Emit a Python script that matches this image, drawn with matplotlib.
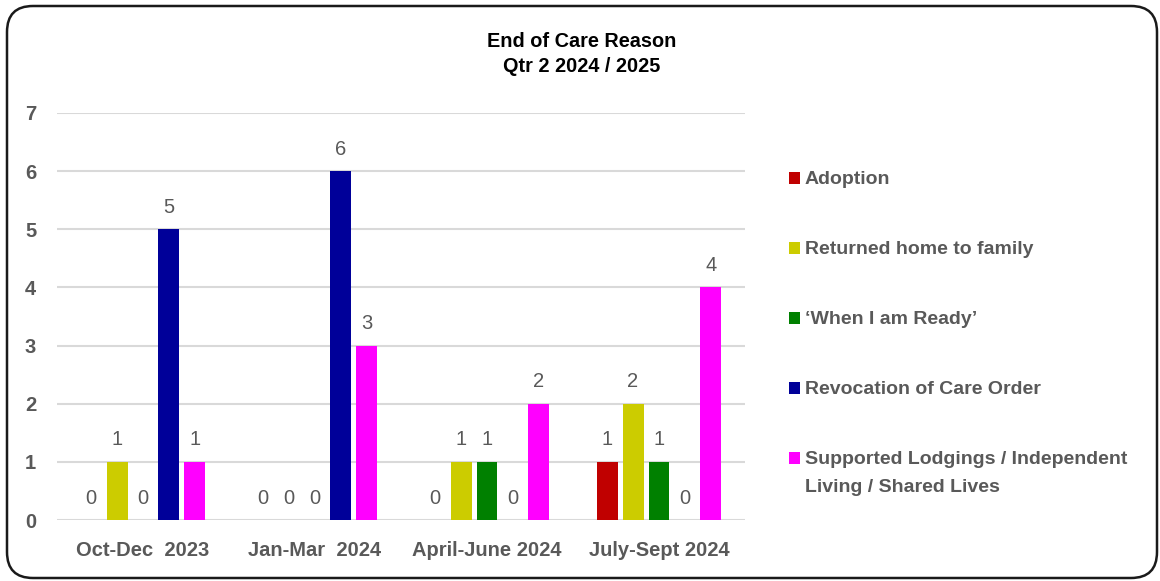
import matplotlib
matplotlib.use("Agg")
import matplotlib.pyplot as plt
import numpy as np
from matplotlib.patches import FancyBboxPatch, Rectangle
from matplotlib.transforms import IdentityTransform

plt.rcParams['font.family'] = ['Liberation Sans', 'DejaVu Sans']

quarters = ["Oct-Dec  2023", "Jan-Mar  2024", "April-June 2024", "July-Sept 2024"]
reasons = [
    ["Adoption"],
    ["Returned home to family"],
    ["\u2018When I am Ready\u2019"],
    ["Revocation of Care Order"],
    ["Supported Lodgings / Independent", "Living / Shared Lives"],
]
adoption = [0, 0, 0, 1]
returned_home = [1, 0, 1, 2]
when_i_am_ready = [0, 0, 1, 1]
revocation = [5, 6, 0, 0]
supported_lodgings = [1, 3, 2, 4]
series = [adoption, returned_home, when_i_am_ready, revocation, supported_lodgings]
colors = ["#C00000", "#CCCC00", "#008000", "#000099", "#FF00FF"]

grey = "#595959"
W, H = 1160, 581

fig = plt.figure(figsize=(W / 100, H / 100), dpi=100)
ax = fig.add_axes([57 / W, 61 / H, 688 / W, 407 / H])

x = np.arange(len(quarters))
step = 0.151
width = 0.122
for i, (vals, col) in enumerate(zip(series, colors)):
    pos = x + (i - 2) * step
    bars = ax.bar(pos, vals, width=width, color=col, zorder=3)
    for b, v in zip(bars, vals):
        ax.annotate(f"{v}", (b.get_x() + b.get_width() / 2, v),
                    xytext=(0, 9), textcoords="offset points",
                    ha="center", va="bottom", fontsize=14.5, color=grey)

ax.set_xlim(-0.5, len(quarters) - 0.5)
ax.set_ylim(0, 7)
ax.set_yticks(range(0, 8))
ax.yaxis.grid(True, color="#d9d9d9", linewidth=1.5, zorder=0)
ax.set_axisbelow(True)
for s in ax.spines.values():
    s.set_visible(False)
ax.tick_params(axis="both", length=0, labelsize=14.5, labelcolor=grey)
ax.tick_params(axis="y", pad=15)
ax.tick_params(axis="x", pad=15)
ax.set_xticks(x)
ax.set_xticklabels(quarters, fontweight="bold")
for t in ax.get_yticklabels():
    t.set_fontweight("bold")

fig.text(582 / W, 1 - 54 / H, "End of Care Reason\nQtr 2 2024 / 2025",
         ha="center", va="center", fontsize=14.3, fontweight="bold",
         color="black", linespacing=1.45)

# Legend: coloured squares with labels, rows 70 px apart
row0, pitch, line_gap = 178, 70, 28
for i, (lines, col) in enumerate(zip(reasons, colors)):
    yc = row0 + pitch * i
    fig.patches.append(Rectangle((789 / W, 1 - (yc + 6) / H), 11 / W, 12 / H,
                                 transform=fig.transFigure, facecolor=col,
                                 edgecolor="none"))
    for j, line in enumerate(lines):
        fig.text(805 / W, 1 - (yc + 2 + j * line_gap) / H, line,
                 ha="left", va="center", fontsize=14, fontweight="bold",
                 color=grey)

border = FancyBboxPatch((7, 3), 1150, 572,
                        boxstyle="round,pad=0,rounding_size=26",
                        transform=IdentityTransform(), facecolor="none",
                        edgecolor="#1a1a1a", linewidth=1.8)
fig.patches.append(border)

fig.savefig("out.png", dpi=100)
